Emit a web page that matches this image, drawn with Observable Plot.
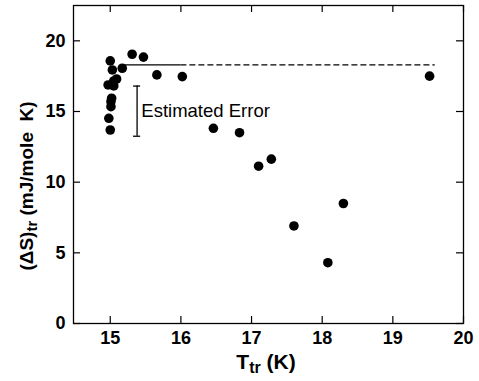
<!DOCTYPE html>
<html>
<head>
<meta charset="utf-8">
<script src="https://cdn.jsdelivr.net/npm/d3@7"></script>
<script src="https://cdn.jsdelivr.net/npm/@observablehq/plot@0.6"></script>
<style>
  html, body { margin: 0; padding: 0; background: #fff; }
  svg text { font-family: "Liberation Sans", Arial, Helvetica, sans-serif; }
</style>
</head>
<body>
<div id="chart"></div>
<script>
// Transition temperature T_tr (K)
const ttr = [15.00, 15.31, 15.47, 15.17, 15.03, 15.66, 16.02, 15.09, 15.05, 14.97, 15.05, 15.02, 15.01, 15.01, 14.98, 15.00, 16.46, 16.83, 17.10, 17.28, 17.60, 18.08, 18.30, 19.52];
// Transition entropy (ΔS)_tr (mJ/mole K)
const dS  = [18.58, 19.05, 18.85, 18.06, 17.94, 17.59, 17.47, 17.30, 17.16, 16.88, 16.81, 15.94, 15.70, 15.34, 14.52, 13.69, 13.81, 13.50, 11.13, 11.63, 6.90, 4.30, 8.49, 17.50];
// Reference level line: solid part then dashed part
const levelY = 18.3;
const solidSpan = [15.21, 16.0];
const dashedSpan = [16.0, 19.6];
// Estimated error bar
const errX = 15.38;
const errRange = [13.25, 16.8];
const errCap = 0.05;
const errLabel = "Estimated Error";
const errLabelPos = [15.44, 15.0];
// Axes
const xTicks = [15, 16, 17, 18, 19, 20];
const yTicks = [0, 5, 10, 15, 20];
const xDomain = [14.48, 20];
const yDomain = [0, 22.5];

const W = 479, H = 381;
const mL = 73, mR = 16, mT = 5, mB = 58;
const iW = W - mL - mR, iH = H - mT - mB;
const tickLen = 7;

const pts = ttr.map((x, i) => ({x, y: dS[i]}));

const svg = Plot.plot({
  width: W, height: H,
  marginLeft: mL, marginRight: mR, marginTop: mT, marginBottom: mB,
  style: {background: "#fff", color: "#000", fontSize: "16px", fontFamily: "'Liberation Sans', Arial, sans-serif"},
  x: {domain: xDomain},
  y: {domain: yDomain},
  marks: [
    Plot.frame({stroke: "#000", strokeWidth: 1.3}),
    Plot.axisX({ticks: xTicks, tickFormat: "d", tickSize: 0, tickPadding: 8, label: null, fontWeight: "bold", fontSize: 18}),
    Plot.axisY({ticks: yTicks, tickFormat: "d", tickSize: 0, tickPadding: 8, label: null, fontWeight: "bold", fontSize: 18}),
    // inward ticks on all four sides
    Plot.tickX(xTicks, {x: d => d, insetTop: iH - tickLen, stroke: "#000", strokeWidth: 1.2}),
    Plot.tickX(xTicks, {x: d => d, insetBottom: iH - tickLen, stroke: "#000", strokeWidth: 1.2}),
    Plot.tickY(yTicks, {y: d => d, insetRight: iW - tickLen, stroke: "#000", strokeWidth: 1.2}),
    Plot.tickY(yTicks, {y: d => d, insetLeft: iW - tickLen, stroke: "#000", strokeWidth: 1.2}),
    // level line
    Plot.ruleY([levelY], {x1: solidSpan[0], x2: solidSpan[1], stroke: "#000", strokeWidth: 1.2}),
    Plot.ruleY([levelY], {x1: dashedSpan[0], x2: dashedSpan[1], stroke: "#000", strokeWidth: 1.2, strokeDasharray: "6,3"}),
    // error bar
    Plot.ruleX([errX], {y1: errRange[0], y2: errRange[1], stroke: "#000", strokeWidth: 1.3}),
    Plot.ruleY(errRange, {y: d => d, x1: errX - errCap, x2: errX + errCap, stroke: "#000", strokeWidth: 1.3}),
    Plot.text([errLabel], {x: errLabelPos[0], y: errLabelPos[1], text: d => d, textAnchor: "start", fontSize: 18.5, fill: "#000"}),
    // data
    Plot.dot(pts, {x: "x", y: "y", r: 4.8, fill: "#000", stroke: "none"})
  ]
});

const s = d3.select(svg);
// x axis label: T_tr (K)
const xl = s.append("text")
  .attr("x", mL + iW / 2 - 2).attr("y", 369)
  .attr("text-anchor", "middle")
  .attr("font-size", 21).attr("font-weight", "bold").attr("fill", "#000");
xl.append("tspan").text("T");
xl.append("tspan").attr("font-size", 16).attr("dy", 4).text("tr");
xl.append("tspan").attr("dy", -4).text(" (K)");

// y axis label: (ΔS)_tr (mJ/mole K)
const yl = s.append("text")
  .attr("transform", `translate(33, 186) rotate(-90)`)
  .attr("text-anchor", "middle")
  .attr("font-size", 19).attr("font-weight", "bold").attr("fill", "#000")
  .style("white-space", "pre");
yl.append("tspan").text("(ΔS)");
yl.append("tspan").attr("font-size", 15).attr("dy", 4).text("tr");
yl.append("tspan").attr("dy", -4).text(" (mJ/mole  K)");

document.getElementById("chart").appendChild(svg);
</script>
</body>
</html>
